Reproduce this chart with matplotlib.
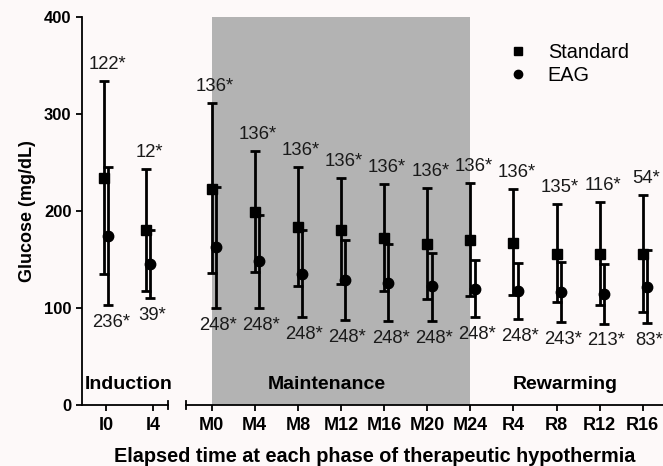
import matplotlib
matplotlib.use("Agg")
import matplotlib.pyplot as plt
from matplotlib.lines import Line2D
import numpy as np

plt.rcParams['font.family'] = ['Liberation Sans', 'DejaVu Sans']

# ---------------- data ----------------
cats_ind = ['I0', 'I4']
cats_rest = ['M0', 'M4', 'M8', 'M12', 'M16', 'M20', 'M24', 'R4', 'R8', 'R12', 'R16']

std_mean = [234, 180, 223, 199, 184, 180, 172, 166, 170, 167, 156, 156, 156]
std_low  = [135, 118, 136, 137, 123, 125, 118, 109, 112, 113, 106, 103, 96]
std_high = [334, 243, 311, 262, 245, 234, 228, 224, 229, 223, 207, 209, 216]

eag_mean = [174, 145, 163, 148, 135, 129, 126, 123, 120, 118, 116, 114, 122]
eag_low  = [103, 110, 100, 100, 91, 88, 87, 87, 91, 89, 86, 84, 85]
eag_high = [245, 180, 225, 196, 180, 170, 166, 157, 150, 146, 147, 145, 160]

n_std = ['122*', '12*', '136*', '136*', '136*', '136*', '136*', '136*', '136*',
         '136*', '135*', '116*', '54*']
n_eag = ['236*', '39*', '248*', '248*', '248*', '248*', '248*', '248*', '248*',
         '248*', '243*', '213*', '83*']

phases = ['Induction', 'Maintenance', 'Rewarming']
yticks = [0, 100, 200, 300, 400]

# ---------------- figure ----------------
bg = '#fdf9f9'
fig = plt.figure(figsize=(6.63, 4.66), dpi=100, facecolor=bg)
bottom = (466 - 405) / 466
height = (405 - 17) / 466
ax1 = fig.add_axes([82 / 663, bottom, (168 - 82) / 663, height])
ax2 = fig.add_axes([186 / 663, bottom, (663 - 186) / 663, height])
for ax in (ax1, ax2):
    ax.set_facecolor('none')
    ax.set_ylim(0, 400)
    for s in ('top', 'right'):
        ax.spines[s].set_visible(False)
    for s in ('left', 'bottom'):
        ax.spines[s].set_linewidth(1.3)
    ax.tick_params(axis='both', width=1.3, length=4.5, direction='out', color='black')

ax1.set_xlim(-0.511, 1.319)
ax2.set_xlim(-0.596, 10.47)
ax2.spines['left'].set_visible(False)
ax2.tick_params(axis='y', left=False, labelleft=False)

ax1.set_yticks(yticks)
ax1.set_yticklabels([str(v) for v in yticks], fontsize=12, fontweight='bold')
ax1.tick_params(axis='y', pad=3)

x1 = np.arange(len(cats_ind))
x2 = np.arange(len(cats_rest))
ax1.set_xticks(x1)
ax1.set_xticklabels(cats_ind, fontsize=13, fontweight='bold')
ax2.set_xticks(x2)
ax2.set_xticklabels(cats_rest, fontsize=13, fontweight='bold')
for ax in (ax1, ax2):
    ax.tick_params(axis='x', pad=4)

# shaded maintenance phase
ax2.axvspan(x2[0], x2[6], color='#b3b3b3', zorder=0, lw=0)

# break caps on x axis
ax1.plot([1, 1], [-0.011, 0.011], transform=ax1.transAxes, color='black',
         lw=1.3, clip_on=False)
ax2.plot([0, 0], [-0.011, 0.011], transform=ax2.transAxes, color='black',
         lw=1.3, clip_on=False)

ekw = dict(fmt='none', ecolor='black', elinewidth=2.0, capsize=3.6, capthick=2.0, zorder=3)

def draw(ax, xs_std, xs_eag, sl):
    sm = np.array(std_mean[sl]); slo = np.array(std_low[sl]); shi = np.array(std_high[sl])
    em = np.array(eag_mean[sl]); elo = np.array(eag_low[sl]); ehi = np.array(eag_high[sl])
    ax.errorbar(xs_std, sm, yerr=[sm - slo, shi - sm], **ekw)
    ax.errorbar(xs_eag, em, yerr=[em - elo, ehi - em], **ekw)
    ax.plot(xs_std, sm, 's', color='black', ms=7, zorder=4)
    ax.plot(xs_eag, em, 'o', color='black', ms=7.5, zorder=4)
    for i in range(len(sm)):
        ax.text(xs_std[i] + 0.07, shi[i] + 17, n_std[sl][i], ha='center', va='center',
                fontsize=13.3, color='#1a1a1a')
        ax.text(xs_eag[i] + 0.05, elo[i] - 18, n_eag[sl][i], ha='center', va='center',
                fontsize=13.3, color='#1a1a1a')

draw(ax1, x1 + np.array([-0.04, -0.14]), x1 + np.array([0.05, -0.06]), slice(0, 2))
draw(ax2, x2 + 0.0, x2 + 0.1, slice(2, 13))

# phase labels
ax1.text(-0.45, 21, phases[0], ha='left', va='center', fontsize=14, fontweight='bold')
ax2.text(2.67, 21, phases[1], ha='center', va='center', fontsize=14, fontweight='bold')
ax2.text(8.2, 21, phases[2], ha='center', va='center', fontsize=14, fontweight='bold')

# axis labels
ax1.set_ylabel('Glucose (mg/dL)', fontsize=13, fontweight='bold', labelpad=6)
fig.text(375 / 663, 1 - 456 / 466, 'Elapsed time at each phase of therapeutic hypothermia',
         ha='center', va='center', fontsize=14.3, fontweight='bold')

# legend
handles = [Line2D([], [], marker='s', ls='none', color='black', ms=5.5),
           Line2D([], [], marker='o', ls='none', color='black', ms=6)]
fig.legend(handles, ['Standard', 'EAG'], loc='upper left',
           bbox_to_anchor=(508 / 663, 1 - 43 / 466), bbox_transform=fig.transFigure,
           frameon=False, fontsize=14.3, handlelength=1.0, handletextpad=1.0,
           labelspacing=0.22, borderpad=0, borderaxespad=0)

fig.savefig('out.png', dpi=100, facecolor=bg)
